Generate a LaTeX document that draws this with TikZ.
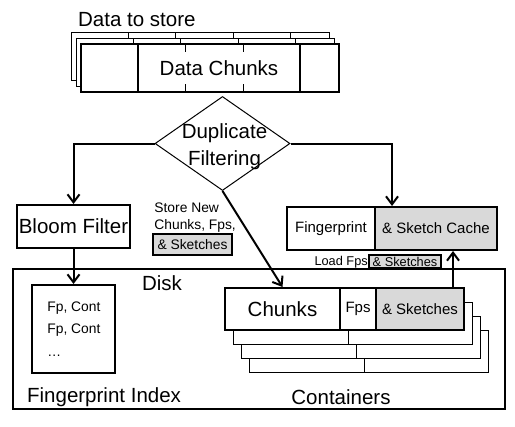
\documentclass[tikz,border=0pt]{standalone}
\usepackage{fontspec}
\setmainfont{Liberation Sans}
\usetikzlibrary{shapes.geometric,arrows.meta}

\begin{document}
\begin{tikzpicture}[x=0.03cm, y=-0.03cm]

% --- Stijldefinities ---
\tikzset{
    groot/.style={font=\fontsize{17.5}{23}\selectfont},
    middel/.style={font=\fontsize{12.8}{15}\selectfont},
    klein/.style={font=\fontsize{11.8}{14.5}\selectfont, inner sep=1pt},
    blok/.style={
        draw=black,
        fill=white,
        line width=0.6mm,
        inner sep=0pt
    },
    dunblok/.style={draw=black, fill=white, line width=0.3mm},
    grijs/.style={fill=gray!30},
    verbinding/.style={
        -{Straight Barb[length=2.4mm,width=3.6mm]},
        line width=0.6mm
    }
}

\useasboundingbox (0,0) rectangle (515,426);

% --- Schijf (Disk) ---
\node[draw, line width=0.45mm, minimum width=14.76cm, minimum height=4.2cm] (disk) at (259,339) {};
\node[groot] (disklabel) at (162,283) {Disk};

% --- Gegevensstroom bovenaan ---
\node[groot, anchor=west] (invoer) at (74,20) {Data to store};
\foreach \k in {2,1} {
    \begin{scope}[shift={(-5*\k,-5.5*\k)}]
        \draw[dunblok] (81,44) rectangle (339,92);
        \foreach \xd in {138,185,243,300}
            \draw[line width=0.3mm] (\xd,44) -- (\xd,92);
    \end{scope}
}
\draw[blok] (81,44) rectangle (339,92);
\draw[line width=0.3mm] (185,44) -- (185,92) (243,44) -- (243,92);
\draw[line width=0.6mm] (138,44) -- (138,92) (300,44) -- (300,92);
\node[groot, fill=white, minimum height=0.96cm] (brokken) at (219,68) {Data Chunks};

% --- Filter ---
\node[draw, diamond, fill=white, line width=0.3mm, inner sep=0pt,
      minimum width=4.05cm, minimum height=2.82cm] (filter) at (222.5,143.5) {};
\node[groot, align=center] (filtertekst) at (224.5,146.5) {Duplicate\\Filtering};

% --- Bloom filter en index ---
\node[blok, groot, minimum width=3.39cm, minimum height=1.29cm] (bloom) at (73.5,226.5) {Bloom Filter};
\node[blok, minimum width=2.49cm, minimum height=2.64cm] (index) at (73.5,329) {};
\node[klein, anchor=west] (fp1) at (46,308) {Fp, Cont};
\node[klein, anchor=west] (fp2) at (46,330) {Fp, Cont};
\node[klein, anchor=west] (fp3) at (46,356) {\dots};
\node[groot, anchor=west] (indexlabel) at (23,397) {Fingerprint Index};

% --- Cache ---
\node[blok, minimum width=6.3cm, minimum height=1.29cm] (cache) at (392,228.5) {};
\node[blok, grijs, middel, minimum width=3.66cm, minimum height=1.29cm] (sketchcache) at (436,228.5) {\& Sketch Cache};
\node[middel] (fpcache) at (331,228.5) {Fingerprint};

% --- Containers ---
\foreach \k in {3,2,1} {
    \begin{scope}[shift={(8*\k,14.3*\k)}]
        \draw[dunblok] (225,288) rectangle (464,330);
        \draw[line width=0.3mm] (340,288) -- (340,330);
    \end{scope}
}
\node[blok, groot, minimum width=3.45cm, minimum height=1.26cm] (chunks) at (282.5,309) {Chunks};
\node[blok, middel, minimum width=1.08cm, minimum height=1.26cm] (fps) at (358,309) {Fps};
\node[blok, grijs, middel, minimum width=2.64cm, minimum height=1.26cm] (sketches) at (420,309) {\& Sketches};
\node[groot] (containerlabel) at (341,397) {Containers};

% --- Labels bij de pijlen ---
\node[klein, align=left, anchor=west] (opslag) at (153,218) {Store New\\Chunks, Fps,};
\node[klein, draw, grijs, line width=0.45mm, minimum width=2.37cm, minimum height=0.63cm] (opslaggrijs) at (192.5,244.5) {\& Sketches};
\node[font=\fontsize{10.9}{12}\selectfont, inner sep=0pt, anchor=east] (laden) at (368,262) {Load Fps};
\node[draw, grijs, line width=0.4mm, inner sep=0.5pt, font=\fontsize{10.9}{12}\selectfont,
      minimum width=2.16cm, minimum height=0.39cm] (ladengrijs) at (405,261.5) {\& Sketches};

% --- Pijlen ---
\draw[verbinding] (filter.west) -| (bloom.north);
\draw[verbinding] (filter.east) -| (cache.north);
\draw[verbinding] (filter.south) -- (chunks.north);
\draw[verbinding] (bloom.south) -- (index.north);
\coordinate (ladenpunt) at ([xshift=-0.36cm]sketches.north east);
\draw[verbinding] (ladenpunt) -- (ladenpunt |- cache.south);
\end{tikzpicture}
\end{document}
